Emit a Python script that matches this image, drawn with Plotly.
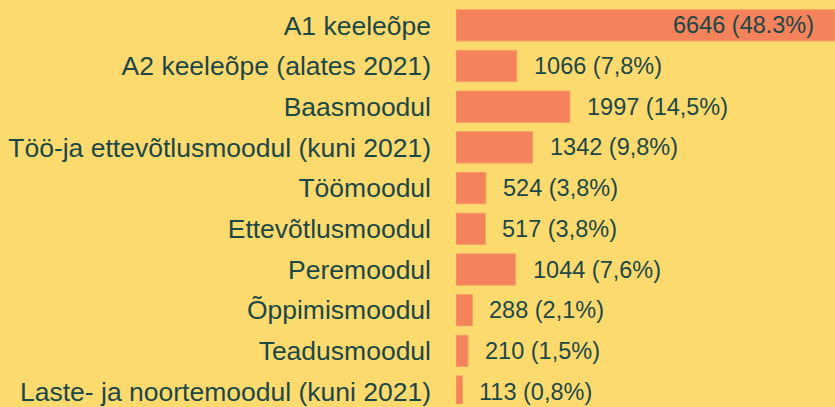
import plotly.graph_objects as go

categories = [
    "A1 keeleõpe",
    "A2 keeleõpe (alates 2021)",
    "Baasmoodul",
    "Töö-ja ettevõtlusmoodul (kuni 2021)",
    "Töömoodul",
    "Ettevõtlusmoodul",
    "Peremoodul",
    "Õppimismoodul",
    "Teadusmoodul",
    "Laste- ja noortemoodul (kuni 2021)",
]
values = [6646, 1066, 1997, 1342, 524, 517, 1044, 288, 210, 113]
shares = ["48.3%", "7,8%", "14,5%", "9,8%", "3,8%", "3,8%", "7,6%", "2,1%", "1,5%", "0,8%"]

BG = "#FDDA6E"
BAR = "#F4825A"
TXT = "#1C4747"
FONT = "Liberation Sans, Arial, sans-serif"

fig = go.Figure(
    go.Bar(
        x=values,
        y=categories,
        orientation="h",
        marker=dict(color=BAR, line=dict(color="#F7A066", width=1)),
        hoverinfo="skip",
    )
)

annotations = []
for i, (c, v, s) in enumerate(zip(categories, values, shares)):
    first = i == 0
    annotations.append(
        dict(
            x=v,
            y=c,
            xref="x",
            yref="y",
            text=f"{v} ({s})",
            showarrow=False,
            xanchor="right" if first else "left",
            yanchor="middle",
            xshift=-19 if first else 15,
            font=dict(family=FONT, size=23.5, color=TXT),
        )
    )

fig.update_layout(
    width=835,
    height=407,
    margin=dict(l=456, r=0, t=0, b=0),
    paper_bgcolor=BG,
    plot_bgcolor=BG,
    bargap=0.23,
    showlegend=False,
    font=dict(family=FONT, color=TXT),
    annotations=annotations,
)
fig.update_xaxes(
    range=[0, 6646],
    visible=False,
    showgrid=False,
    zeroline=False,
)
fig.update_yaxes(
    type="category",
    categoryorder="array",
    categoryarray=categories,
    range=[9.305, -0.622],
    showgrid=False,
    zeroline=False,
    showline=False,
    ticks="",
    ticklabelstandoff=24,
    tickfont=dict(family=FONT, size=26.5, color=TXT),
)

fig.write_html(
    "out.html",
    config={"displayModeBar": False},
    post_script="document.body.style.margin='0px';document.body.style.background='" + BG + "';",
)
